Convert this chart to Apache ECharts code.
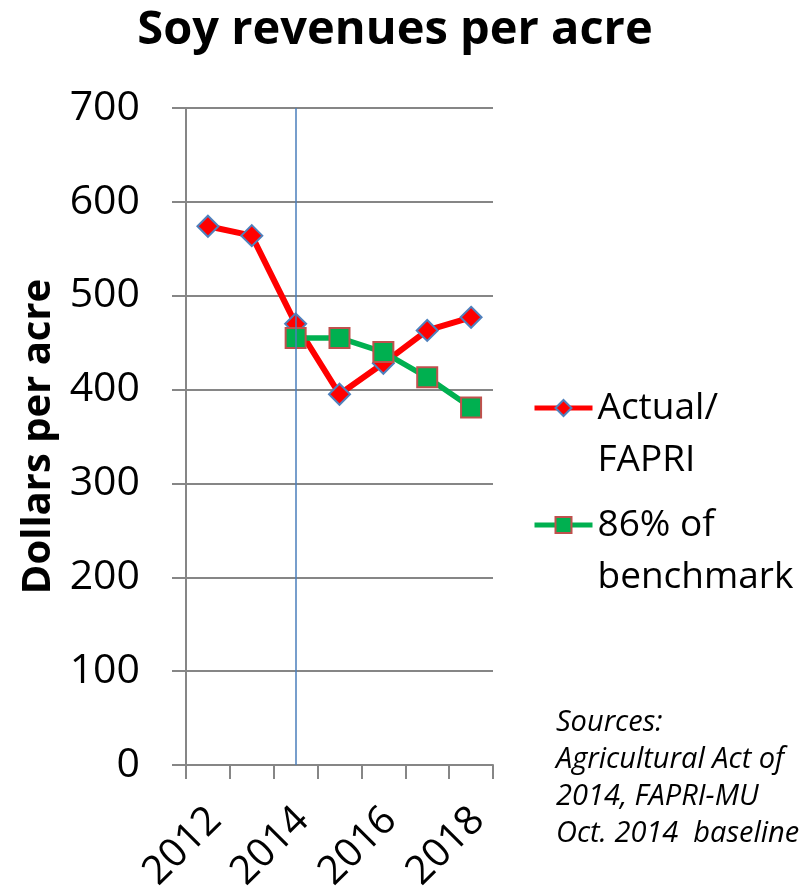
<!DOCTYPE html>
<html>
<head>
<meta charset="utf-8">
<style>
  html, body { margin: 0; padding: 0; background: #fff; }
  #chart { width: 809px; height: 895px; }
</style>
<script src="https://cdn.jsdelivr.net/npm/echarts@6/dist/echarts.min.js"></script>
</head>
<body>
<div id="chart"></div>
<script>
// values
const years = ['2012', '2013', '2014', '2015', '2016', '2017', '2018'];
const actual = [574, 564, 470, 395, 428, 463, 477];
const benchmark = [null, null, 455, 455, 440, 413, 381];
const yTicks = [0, 100, 200, 300, 400, 500, 600, 700];
const legendText = {
    'Actual/FAPRI': '\nActual/\nFAPRI',
    '86% of benchmark': '\n86% of\nbenchmark'
};
const sources = ['Sources:', 'Agricultural Act of', '2014, FAPRI-MU', 'Oct. 2014  baseline'];
const markYear = '2014';

const font = '"Open Sans", sans-serif';
const gridColor = '#868686';

var chart = echarts.init(document.getElementById('chart'));

const legendCommon = {
    orient: 'vertical',
    left: 532,
    padding: 0,
    itemWidth: 58,
    itemHeight: 20,
    itemGap: 0,
    formatter: name => legendText[name],
    textStyle: { fontFamily: font, fontSize: 37, lineHeight: 52, color: '#000' }
};

var option = {
    animation: false,
    title: {
        text: 'Soy revenues per acre',
        left: 390,
        textAlign: 'center',
        top: 2,
        textStyle: { fontFamily: font, fontSize: 47, fontWeight: 'bold', color: '#000' }
    },
    legend: [
        Object.assign({ top: 330, data: ['Actual/FAPRI'], lineStyle: { width: 5 } }, legendCommon),
        Object.assign({ top: 447, data: ['86% of benchmark'], lineStyle: { width: 5 } }, legendCommon)
    ],
    grid: { left: 186, right: 316, top: 108, bottom: 130, outerBoundsMode: 'none', containLabel: false },
    xAxis: {
        type: 'category',
        data: years,
        boundaryGap: true,
        axisLine: { show: true, lineStyle: { color: gridColor, width: 2 } },
        axisTick: { show: true, interval: 0, alignWithLabel: false, length: 14, lineStyle: { color: gridColor, width: 2 } },
        axisLabel: {
            interval: 1,
            rotate: 45,
            margin: 56,
            padding: [0, -10, 0, 0],
            fontFamily: font,
            fontSize: 40,
            color: '#000'
        },
        splitLine: { show: false }
    },
    yAxis: {
        type: 'value',
        min: yTicks[0],
        max: yTicks[yTicks.length - 1],
        interval: 100,
        name: 'Dollars per acre',
        nameLocation: 'middle',
        nameGap: 127,
        nameTextStyle: { fontFamily: font, fontSize: 40, fontWeight: 'bold', color: '#000' },
        axisLine: { show: true, lineStyle: { color: gridColor, width: 2 } },
        axisTick: { show: true, length: 14, lineStyle: { color: gridColor, width: 2 } },
        axisLabel: { margin: 46, fontFamily: font, fontSize: 41, color: '#000' },
        splitLine: { show: true, lineStyle: { color: gridColor, width: 2 } }
    },
    series: [
        {
            name: 'Actual/FAPRI',
            type: 'line',
            data: actual,
            z: 3,
            symbol: 'diamond',
            symbolSize: 21,
            lineStyle: { color: '#ff0000', width: 6 },
            itemStyle: { color: '#ff0000', borderColor: '#4f81bd', borderWidth: 2 },
            markLine: {
                silent: true,
                symbol: 'none',
                label: { show: false },
                lineStyle: { color: '#4a7ebb', width: 1.5, type: 'solid' },
                data: [[{ coord: [markYear, 700] }, { coord: [markYear, 0] }]]
            }
        },
        {
            name: '86% of benchmark',
            type: 'line',
            data: benchmark,
            z: 4,
            symbol: 'rect',
            symbolSize: 20,
            lineStyle: { color: '#00b050', width: 5.5 },
            itemStyle: { color: '#00b050', borderColor: '#c0504d', borderWidth: 2 }
        }
    ],
    graphic: [{
        type: 'text',
        left: 556,
        top: 704,
        style: {
            text: sources.join('\n'),
            font: 'italic 29px ' + font,
            lineHeight: 37,
            fill: '#000'
        }
    }]
};

chart.setOption(option);
</script>
</body>
</html>
